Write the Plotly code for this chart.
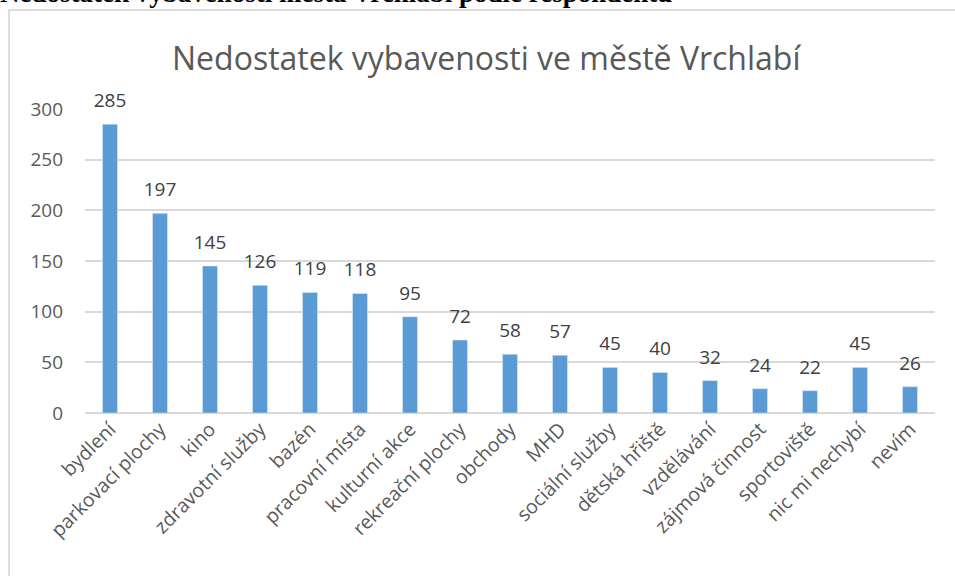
import plotly.graph_objects as go

categories = ["bydlení", "parkovací plochy", "kino", "zdravotní služby", "bazén",
              "pracovní místa", "kulturní akce", "rekreační plochy", "obchody", "MHD",
              "sociální služby", "dětská hřiště", "vzdělávání", "zájmová činnost",
              "sportoviště", "nic mi nechybí", "nevím"]
values = [285, 197, 145, 126, 119, 118, 95, 72, 58, 57, 45, 40, 32, 24, 22, 45, 26]
y_ticks = [0, 50, 100, 150, 200, 250, 300]

W, H = 955, 576
L, R, T, B = 85, 20, 109, 163
pw, ph = W - L - R, H - T - B

def px(x):
    return (x - L) / pw

def py(y):
    return (H - B - y) / ph

fig = go.Figure()
fig.add_trace(go.Bar(
    x=categories, y=values, marker_color="#5B9BD5", hoverinfo="x+y",
))
fig.add_trace(go.Scatter(
    x=categories, y=values, mode="markers+text",
    marker=dict(size=18, opacity=0, color="white"),
    text=[str(v) for v in values], textposition="top center",
    textfont=dict(family="Open Sans", size=19, color="#404040"),
    cliponaxis=False, hoverinfo="skip",
))

fig.update_layout(
    width=W, height=H, margin=dict(l=L, r=R, t=T, b=B),
    paper_bgcolor="white", plot_bgcolor="white",
    bargap=0.7, showlegend=False,
    font=dict(family="Open Sans", color="#595959"),
    xaxis=dict(tickangle=-45, tickfont=dict(size=19.5, color="#595959"),
               range=[-0.5, len(categories) - 0.5],
               showgrid=False, showline=False, ticks="", automargin=False),
    yaxis=dict(range=[0, 300], tickvals=y_ticks, tickfont=dict(size=19, color="#595959"),
               gridcolor="#D9D9D9", gridwidth=1.5, zeroline=True, zerolinecolor="#D9D9D9",
               zerolinewidth=1.5, showline=False, ticks="", ticklabelstandoff=21,
               automargin=False),
    annotations=[
        dict(text="Nedostatek vybavenosti ve městě Vrchlabí", xref="paper", yref="paper",
             x=px(486), y=py(58), xanchor="center", yanchor="middle", showarrow=False,
             font=dict(family="Open Sans", size=32, color="#595959")),
        dict(text="<b>Nedostatek vybavenosti města Vrchlabí podle respondentů</b>",
             xref="paper", yref="paper", x=px(-2), y=py(10), xanchor="left", yanchor="bottom",
             showarrow=False, font=dict(family="Liberation Serif", size=27, color="black")),
    ],
    shapes=[
        dict(type="line", xref="paper", yref="paper", x0=px(9), x1=px(960), y0=py(10), y1=py(10),
             line=dict(color="#D0D0D0", width=1.5)),
        dict(type="line", xref="paper", yref="paper", x0=px(9), x1=px(9), y0=py(10), y1=py(580),
             line=dict(color="#D0D0D0", width=1.5)),
    ],
)

fig.write_html("out.html", config={"displayModeBar": False},
               post_script="document.body.style.margin='0';document.body.style.overflow='hidden';")
